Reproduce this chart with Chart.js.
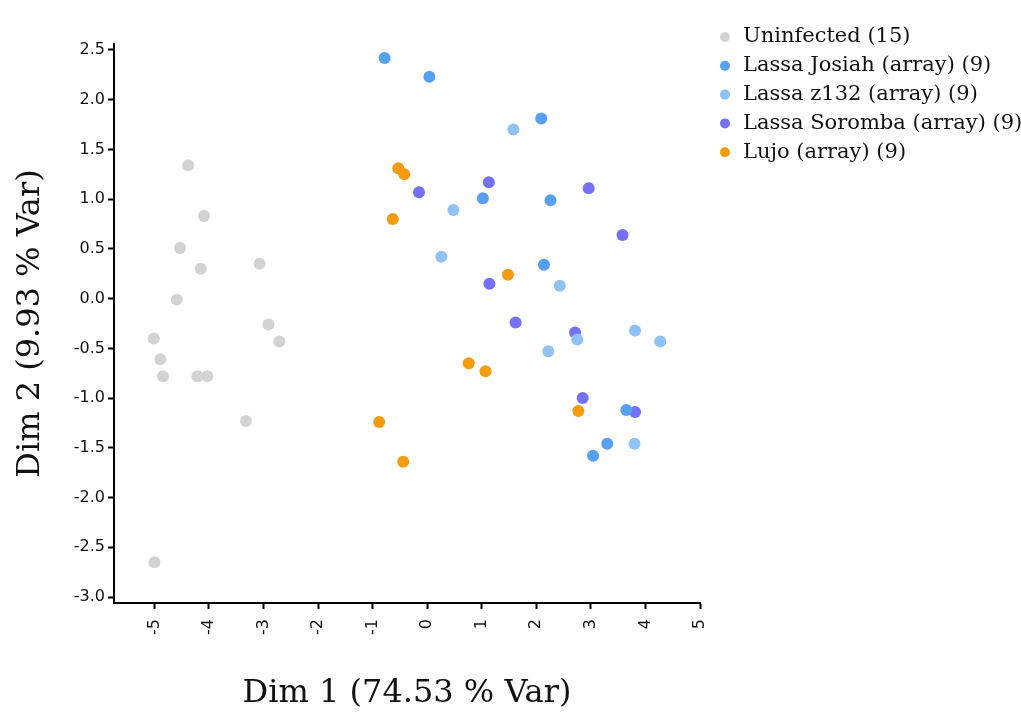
<!DOCTYPE html>
<html>
<head>
<meta charset="utf-8">
<script src="https://cdn.jsdelivr.net/npm/chart.js@4.4.1/dist/chart.umd.min.js"></script>
<style>
  html, body { margin: 0; padding: 0; background: #fff; }
  #wrap { width: 1021px; height: 713px; }
</style>
</head>
<body>
<div id="wrap"><canvas id="pca"></canvas></div>
<script>
'use strict';

// groups, in legend order
const seriesNames = [
    'Uninfected (15)',
    'Lassa Josiah (array) (9)',
    'Lassa z132 (array) (9)',
    'Lassa Soromba (array) (9)',
    'Lujo (array) (9)'
];
const seriesColors = ['#d3d3d3', '#55a0f0', '#90c2f5', '#7571f7', '#f59b0e'];

// [dim1, dim2] per sample
const uninfected = [
    [-4.38, 1.34], [-4.09, 0.83], [-4.53, 0.51], [-4.15, 0.30], [-3.07, 0.35],
    [-4.59, -0.01], [-2.91, -0.26], [-2.71, -0.43], [-5.01, -0.40], [-4.89, -0.61],
    [-4.84, -0.78], [-4.21, -0.78], [-4.03, -0.78], [-3.32, -1.23], [-5.00, -2.65]
];
const lassaJosiah = [
    [-0.78, 2.42], [0.04, 2.23], [2.09, 1.81], [1.02, 1.01], [2.26, 0.99],
    [2.14, 0.34], [3.65, -1.12], [3.30, -1.46], [3.04, -1.58]
];
const lassaZ132 = [
    [1.58, 1.70], [0.48, 0.89], [0.26, 0.42], [2.43, 0.13], [2.75, -0.41],
    [3.81, -0.32], [4.27, -0.43], [2.22, -0.53], [3.80, -1.46]
];
const lassaSoromba = [
    [1.13, 1.17], [-0.15, 1.07], [2.96, 1.11], [3.58, 0.64], [1.14, 0.15],
    [1.62, -0.24], [2.71, -0.34], [2.85, -1.00], [3.81, -1.14]
];
const lujo = [
    [-0.53, 1.31], [-0.42, 1.25], [-0.63, 0.80], [1.48, 0.24], [0.76, -0.65],
    [1.07, -0.73], [2.77, -1.13], [-0.88, -1.24], [-0.44, -1.64]
];
const seriesPoints = [uninfected, lassaJosiah, lassaZ132, lassaSoromba, lujo];

const xTicks = [-5, -4, -3, -2, -1, 0, 1, 2, 3, 4, 5];
const yTicks = [-3, -2.5, -2, -1.5, -1, -0.5, 0, 0.5, 1, 1.5, 2, 2.5];
const xRange = [-5.74, 5];
const yRange = [-3.06, 2.56];

const xTitle = 'Dim 1 (74.53 % Var)';
const yTitle = 'Dim 2 (9.93 % Var)';

const datasets = seriesNames.map((name, i) => ({
    label: name,
    data: seriesPoints[i].map(p => ({ x: p[0], y: p[1] })),
    backgroundColor: seriesColors[i],
    borderWidth: 0,
    pointRadius: 6,
    pointHoverRadius: 6
}));

// legend sits in the top right corner, above the plot top, so draw it by hand
const sideLegend = {
    id: 'sideLegend',
    afterDraw(chart) {
        const ctx = chart.ctx;
        ctx.save();
        ctx.font = '21px "DejaVu Serif"';
        ctx.textBaseline = 'middle';
        ctx.textAlign = 'left';
        chart.data.datasets.forEach((ds, i) => {
            const y = 37 + i * 28.8;
            ctx.fillStyle = ds.backgroundColor;
            ctx.beginPath();
            ctx.arc(725, y, 5, 0, Math.PI * 2);
            ctx.fill();
            ctx.fillStyle = '#111';
            ctx.fillText(ds.label, 743, y);
        });
        ctx.restore();
    }
};

const axisGrid = {
    drawOnChartArea: false,
    drawTicks: true,
    tickLength: 6,
    tickWidth: 2,
    tickColor: '#000'
};
const tickFont = { family: '"DejaVu Sans"', size: 16 };
const titleFont = { family: '"DejaVu Serif"', size: 32 };

new Chart(document.getElementById('pca'), {
    type: 'scatter',
    data: { datasets: datasets },
    plugins: [sideLegend],
    options: {
        responsive: true,
        maintainAspectRatio: false,
        animation: false,
        layout: { padding: { left: 0, top: 44, right: 321, bottom: 0 } },
        plugins: {
            legend: { display: false },
            tooltip: { enabled: false }
        },
        scales: {
            x: {
                type: 'linear',
                min: xRange[0],
                max: xRange[1],
                afterBuildTicks: (scale) => { scale.ticks = xTicks.map(v => ({ value: v })); },
                afterFit: (scale) => { scale.height = 110; },
                ticks: {
                    callback: (v) => String(v),
                    minRotation: 90,
                    maxRotation: 90,
                    padding: 10,
                    color: '#111',
                    font: tickFont
                },
                grid: axisGrid,
                border: { display: true, color: '#000', width: 2 },
                title: {
                    display: true,
                    text: xTitle,
                    color: '#111',
                    font: titleFont,
                    padding: { top: 0, bottom: 0 }
                }
            },
            y: {
                type: 'linear',
                min: yRange[0],
                max: yRange[1],
                afterBuildTicks: (scale) => { scale.ticks = yTicks.map(v => ({ value: v })); },
                afterFit: (scale) => { scale.width = 114; },
                ticks: {
                    callback: (v) => v.toFixed(1),
                    padding: 3,
                    color: '#111',
                    font: tickFont
                },
                grid: axisGrid,
                border: { display: true, color: '#000', width: 2 },
                title: {
                    display: true,
                    text: yTitle,
                    color: '#111',
                    font: titleFont,
                    padding: { top: 11, bottom: 0 }
                }
            }
        }
    }
});
</script>
</body>
</html>
